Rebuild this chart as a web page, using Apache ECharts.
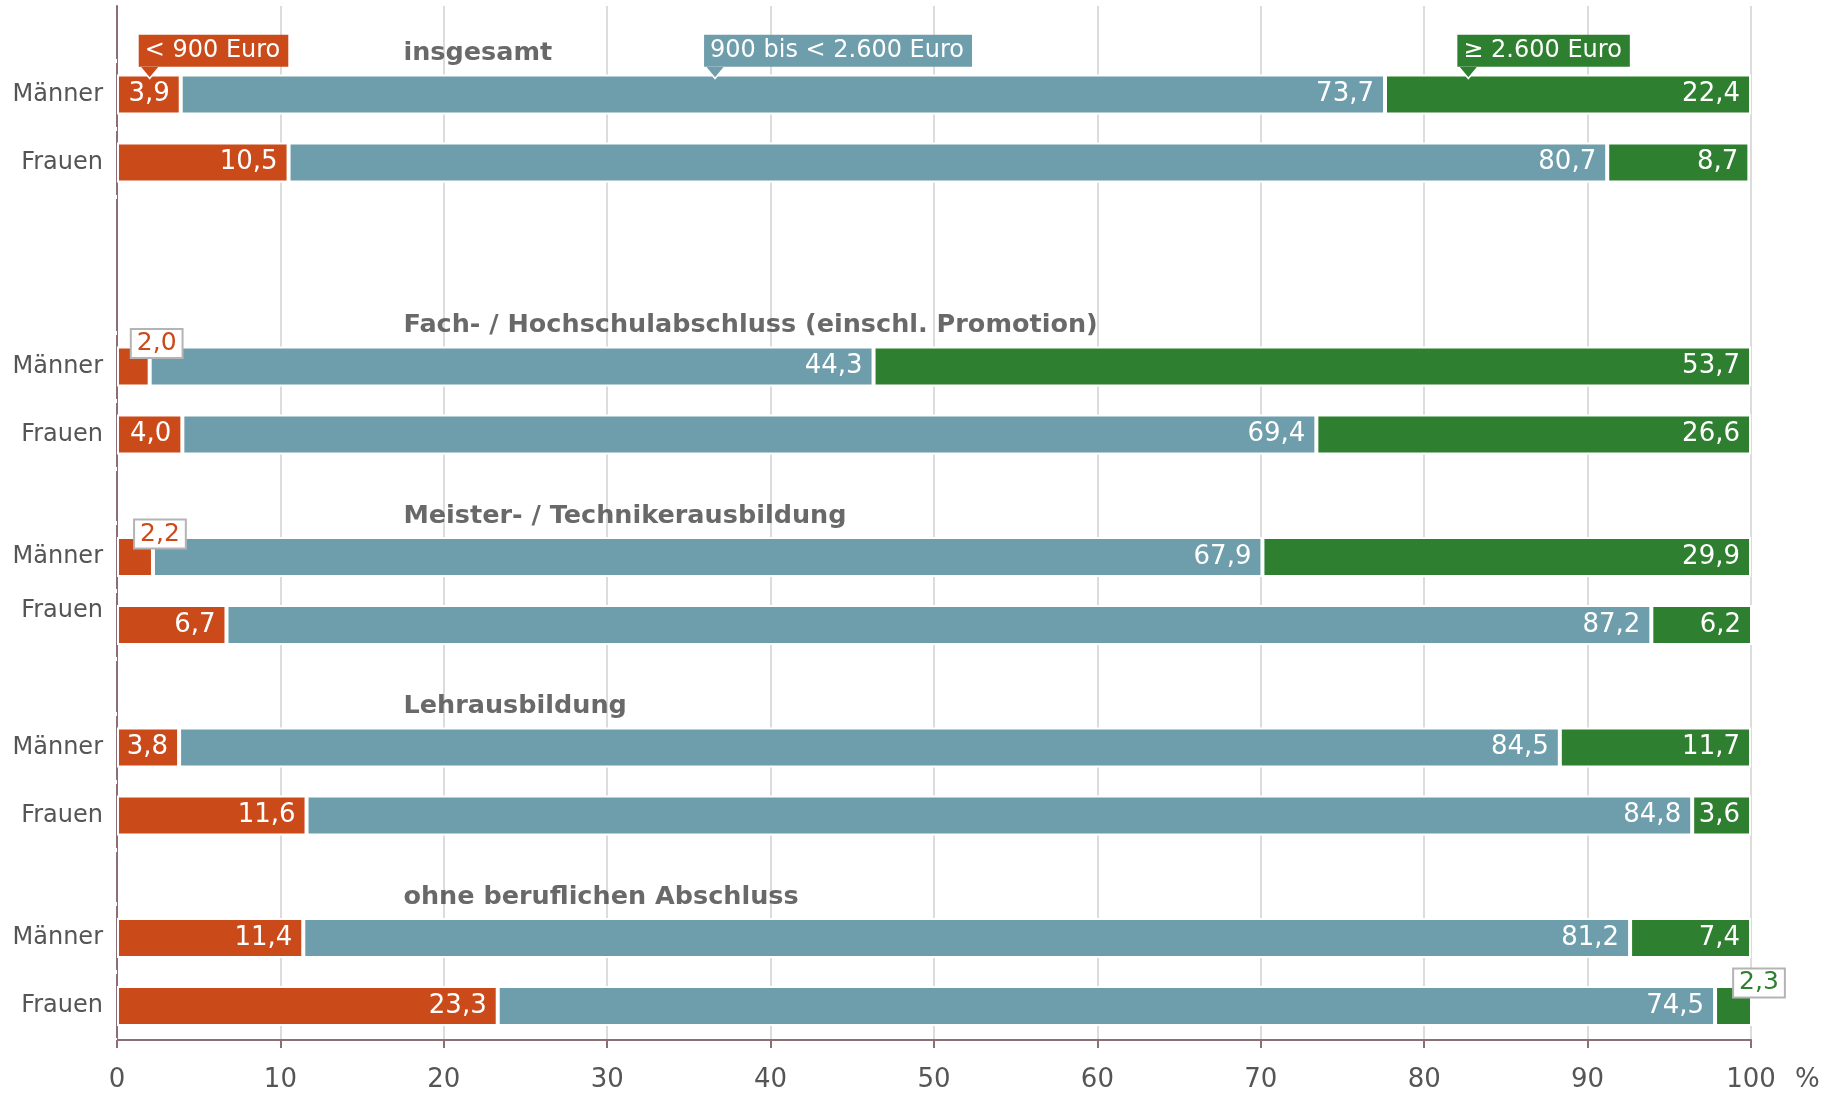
<!DOCTYPE html>
<html>
<head>
<meta charset="utf-8">
<title>Nettoeinkommen nach Berufsabschluss</title>
<script src="https://cdn.jsdelivr.net/npm/echarts@6/dist/echarts.min.js"></script>
<style>
    html, body { margin: 0; padding: 0; background: #fff; }
    #chart { width: 1836px; height: 1095px; }
</style>
</head>
<body>
<div id="chart"></div>
<script>
// data
var groupTitles = ['insgesamt', 'Fach- / Hochschulabschluss (einschl. Promotion)', 'Meister- / Technikerausbildung', 'Lehrausbildung', 'ohne beruflichen Abschluss'];
var rowLabels = ['Männer', 'Frauen'];
var seriesNames = ['< 900 Euro', '900 bis < 2.600 Euro', '≥ 2.600 Euro'];
var under900 = [3.9, 10.5, 2.0, 4.0, 2.2, 6.7, 3.8, 11.6, 11.4, 23.3];
var from900 = [73.7, 80.7, 44.3, 69.4, 67.9, 87.2, 84.5, 84.8, 81.2, 74.5];
var over2600 = [22.4, 8.7, 53.7, 26.6, 29.9, 6.2, 11.7, 3.6, 7.4, 2.3];

// layout
var colors = ['#cb4a1a', '#6e9dab', '#2e7f2f'];
var font = 'DejaVu Sans';
var calloutAt = [2.0, 36.6, 82.7];   // x value the callout arrows point at
var titleX = 17.5;
var topPad = 6, rowGap = 5, firstGroupGap = 15, groupGap = 9, bottomPad = 2;
var raisedRow = 5;                    // 'Frauen' label of the Meister group sits higher

var rowSlot = [];
var s = topPad;
groupTitles.forEach(function (t, g) {
    rowSlot.push(s, s + rowGap);
    s += rowGap + (g === 0 ? firstGroupGap : groupGap);
});
var slotCount = rowSlot[rowSlot.length - 1] + 1 + bottomPad;
var slots = [], slotLabel = [], breakSlot = {};
for (var i = 0; i < slotCount; i++) {
    slots.push(String(i));
    slotLabel.push('');
}
rowSlot.forEach(function (k, r) {
    slotLabel[k] = rowLabels[r % 2];
});
for (var g = 0; g < groupTitles.length; g++) {
    var m = rowSlot[g * 2];
    breakSlot[m - 2] = true;
    breakSlot[m + 3] = true;
    breakSlot[m + 8] = true;
}

function fmt(v) {
    return v.toFixed(1).replace('.', ',');
}

function column(values, color) {
    var d = [];
    for (var i = 0; i < slotCount; i++) d.push('-');
    values.forEach(function (v, r) {
        var item = {value: v};
        if (v < 3) {
            // too narrow: value goes into a small box above the bar end
            item.label = {
                position: ['100%', 0],
                align: 'center',
                verticalAlign: 'middle',
                offset: [7, -3],
                color: color,
                fontSize: 25,
                backgroundColor: '#fff',
                borderColor: '#b4b4b4',
                borderWidth: 2,
                padding: [1, 5, 0, 5],
                lineHeight: 26
            };
        }
        d[rowSlot[r]] = item;
    });
    return d;
}

var values = [under900, from900, over2600];
var series = values.map(function (vals, n) {
    return {
        name: seriesNames[n],
        type: 'bar',
        stack: 'anteil',
        barWidth: 40,
        data: column(vals, colors[n]),
        itemStyle: {color: colors[n], borderColor: '#fff', borderWidth: 2},
        label: {
            show: true,
            position: 'insideRight',
            distance: 11,
            color: '#fff',
            fontSize: 26,
            fontFamily: font,
            formatter: function (p) { return fmt(p.value); }
        },
        markPoint: {
            symbol: 'path://M0,0 L20,0 L10,12 Z',
            symbolSize: [20, 12],
            symbolOffset: [0, -22],
            itemStyle: {color: colors[n], borderColor: '#fff', borderWidth: 1.5},
            label: {
                show: true,
                position: [0, -31],
                align: 'left',
                verticalAlign: 'top',
                formatter: seriesNames[n],
                color: '#fff',
                backgroundColor: colors[n],
                fontSize: 24,
                fontFamily: font,
                lineHeight: 26,
                padding: [3, 8, 3, 6]
            },
            data: [{coord: [calloutAt[n], rowSlot[0]]}]
        }
    };
});

series.push({
    type: 'scatter',
    silent: true,
    symbolSize: 1,
    itemStyle: {color: 'transparent'},
    label: {
        show: true,
        position: 'right',
        distance: 0,
        offset: [0, 0],
        formatter: '{b}',
        color: '#444',
        fontWeight: 'bold',
        fontSize: 25.5,
        fontFamily: font
    },
    data: groupTitles.map(function (t, g) {
        return {name: t, value: [titleX, rowSlot[g * 2] - 3]};
    })
});

var myChart = echarts.init(document.getElementById('chart'));
var option = {
    animation: false,
    textStyle: {fontFamily: font},
    grid: {
        left: 117,
        right: 85,
        top: 6,
        bottom: 55,
        outerBoundsMode: 'none'
    },
    xAxis: {
        type: 'value',
        min: 0,
        max: 100,
        interval: 10,
        name: '%',
        nameLocation: 'end',
        nameGap: 44,
        nameTextStyle: {
            color: '#555',
            fontSize: 26,
            verticalAlign: 'top',
            lineHeight: 26,
            padding: [27, 0, 0, 0]
        },
        axisLine: {show: true, lineStyle: {color: '#8d6e75', width: 2}},
        axisTick: {show: true, length: 8, lineStyle: {color: '#8d6e75', width: 2}},
        axisLabel: {color: '#555', fontSize: 26, margin: 27},
        splitLine: {show: true, lineStyle: {color: '#dcdcdc', width: 2}}
    },
    yAxis: {
        type: 'category',
        inverse: true,
        data: slots,
        axisLine: {show: true, lineStyle: {color: '#8d6e75', width: 2}},
        axisTick: {
            show: true,
            length: 7,
            interval: function (index) { return !!breakSlot[index]; },
            lineStyle: {color: '#fff', width: 4}
        },
        axisLabel: {
            interval: 0,
            color: '#555',
            fontSize: 24,
            margin: 14,
            formatter: function (v, index) {
                if (index === rowSlot[raisedRow]) return '{up|' + slotLabel[index] + '}';
                return slotLabel[index];
            },
            rich: {
                up: {color: '#555', fontSize: 24, padding: [0, 0, 29, 0]}
            }
        },
        splitLine: {show: false}
    },
    series: series
};
myChart.setOption(option);
</script>
</body>
</html>
